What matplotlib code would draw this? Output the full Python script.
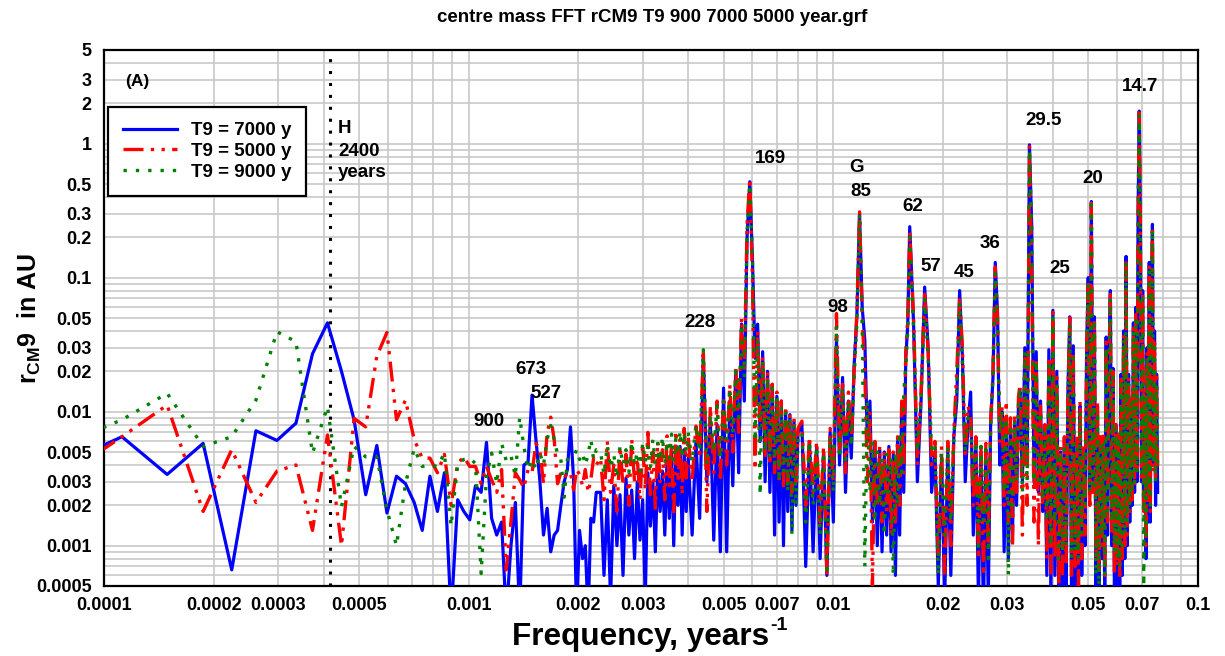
import matplotlib
matplotlib.use("Agg")
import matplotlib.pyplot as plt

plt.rcParams['font.family'] = ['Liberation Sans', 'DejaVu Sans']
plt.rcParams['font.weight'] = 'bold'
plt.rcParams['mathtext.fontset'] = 'custom'
plt.rcParams['mathtext.rm'] = 'Liberation Sans:bold'
plt.rcParams['mathtext.it'] = 'Liberation Sans:bold'
plt.rcParams['mathtext.bf'] = 'Liberation Sans:bold'

# --- low frequency FFT bins (k = 2..60), years^-1
freq_bins = [
    0.0000746, 0.000112, 0.000149, 0.000187, 0.000224, 0.000261, 0.000298, 0.000336, 0.000373, 0.000410,
    0.000448, 0.000485, 0.000522, 0.000560, 0.000597, 0.000634, 0.000671, 0.000709, 0.000746, 0.000783,
    0.000821, 0.000858, 0.000895, 0.000933, 0.000970, 0.001007, 0.001044, 0.001082, 0.001119, 0.001156,
    0.001194, 0.001231, 0.001268, 0.001306, 0.001343, 0.001380, 0.001417, 0.001455, 0.001492, 0.001529,
    0.001567, 0.001604, 0.001641, 0.001679, 0.001716, 0.001753, 0.001790, 0.001828, 0.001865, 0.001902,
    0.001940, 0.001977, 0.002014, 0.002052, 0.002089, 0.002126, 0.002163, 0.002201, 0.002238,
]
blue_bins = [
    0.0039, 0.0065, 0.0034, 0.0058, 0.00066, 0.0072, 0.0061, 0.0082, 0.027, 0.046,
    0.020, 0.0087, 0.0024, 0.0056, 0.00175, 0.0033, 0.0029, 0.0021, 0.0013, 0.0033,
    0.0018, 0.0035, 0.0003, 0.0022, 0.0018, 0.00156, 0.0028, 0.0025, 0.0059, 0.0016,
    0.0012, 0.0015, 0.0003, 0.0010, 0.0021, 0.0003, 0.0040, 0.0042, 0.0133, 0.0062,
    0.0031, 0.0012, 0.0019, 0.0009, 0.0012, 0.0013, 0.0020, 0.0030, 0.0037, 0.0077,
    0.0031, 0.0003, 0.0013, 0.0008, 0.0010, 0.0003, 0.0016, 0.0015, 0.0025,
]
red_bins = [
    0.0031, 0.0065, 0.0112, 0.0018, 0.0052, 0.0021, 0.0036, 0.0040, 0.0013, 0.0067,
    0.0010, 0.0089, 0.0077, 0.026, 0.039, 0.0087, 0.0122, 0.0062, 0.0045, 0.0045,
    0.0035, 0.0048, 0.0020, 0.0041, 0.0046, 0.0039, 0.0039, 0.0029, 0.0039, 0.0031,
    0.0025, 0.0037, 0.00066, 0.0015, 0.0035, 0.0031, 0.0027, 0.0037, 0.0035, 0.0058,
    0.0052, 0.0029, 0.0069, 0.0091, 0.0062, 0.0029, 0.0035, 0.0032, 0.0035, 0.0035,
    0.0026, 0.0037, 0.0034, 0.0028, 0.0037, 0.0025, 0.0031, 0.0045, 0.0040,
]
green_bins = [
    0.0055, 0.0087, 0.0137, 0.0055, 0.0065, 0.0122, 0.0395, 0.0333, 0.0049, 0.0109,
    0.00195, 0.0055, 0.0046, 0.0046, 0.00185, 0.0010, 0.0029, 0.0053, 0.0039, 0.0040,
    0.0039, 0.0049, 0.0014, 0.0041, 0.0044, 0.0045, 0.0041, 0.00062, 0.0033, 0.0049,
    0.0029, 0.0058, 0.0043, 0.0047, 0.0033, 0.0091, 0.0055, 0.0037, 0.0044, 0.0037,
    0.0049, 0.0040, 0.0062, 0.0079, 0.0062, 0.0048, 0.0044, 0.0023, 0.0044, 0.0045,
    0.0046, 0.0052, 0.0044, 0.0049, 0.0040, 0.0048, 0.0062, 0.0044, 0.0052,
]

# --- dense part of the spectrum (sampled), years^-1
freq_band = [
    # 0.0023 - 0.00395
    0.00230, 0.00235, 0.00240, 0.00245, 0.00250, 0.00255, 0.00260, 0.00265, 0.00270, 0.00275,
    0.00280, 0.00285, 0.00290, 0.00295, 0.00300, 0.00305, 0.00310, 0.00315, 0.00320, 0.00325,
    0.00330, 0.00335, 0.00340, 0.00345, 0.00350, 0.00355, 0.00360, 0.00365, 0.00370, 0.00375,
    0.00380, 0.00385, 0.00390, 0.00395,
    # 0.004 - 0.008
    0.0040, 0.0041, 0.0042, 0.0043, 0.0044, 0.0045, 0.0046, 0.0047, 0.0048, 0.0049,
    0.0050, 0.0051, 0.0052, 0.0053, 0.0054, 0.0055, 0.0056, 0.0057, 0.0058, 0.0059,
    0.0060, 0.0061, 0.0062, 0.0063, 0.0064, 0.0065, 0.0066, 0.0067, 0.0068, 0.0069,
    0.0070, 0.0071, 0.0072, 0.0073, 0.0074, 0.0075, 0.0076, 0.0077, 0.0078, 0.0079,
    0.0080,
    # 0.0082 - 0.016
    0.0082, 0.0084, 0.0086, 0.0088, 0.0090, 0.0092, 0.0094, 0.0096, 0.0098, 0.0100,
    0.0102, 0.0104, 0.0106, 0.0108, 0.0110, 0.0112, 0.0114, 0.0116, 0.0118, 0.0120,
    0.0122, 0.0124, 0.0126, 0.0128, 0.0130, 0.0132, 0.0134, 0.0136, 0.0138, 0.0140,
    0.0142, 0.0144, 0.0146, 0.0148, 0.0150, 0.0152, 0.0154, 0.0156, 0.0158, 0.0160,
    # 0.0162 - 0.0322
    0.0162, 0.0166, 0.0170, 0.0174, 0.0178, 0.0182, 0.0186, 0.0190, 0.0194, 0.0198,
    0.0202, 0.0206, 0.0210, 0.0214, 0.0218, 0.0222, 0.0226, 0.0230, 0.0234, 0.0238,
    0.0242, 0.0246, 0.0250, 0.0254, 0.0258, 0.0262, 0.0266, 0.0270, 0.0274, 0.0278,
    0.0282, 0.0286, 0.0290, 0.0294, 0.0298, 0.0302, 0.0306, 0.0310, 0.0314, 0.0318,
    0.0322,
    # 0.0325 - 0.0775
    0.0325, 0.0330, 0.0335, 0.0340, 0.0345, 0.0350, 0.0355, 0.0360, 0.0365, 0.0370,
    0.0375, 0.0380, 0.0385, 0.0390, 0.0395, 0.0400, 0.0405, 0.0410, 0.0415, 0.0420,
    0.0425, 0.0430, 0.0435, 0.0440, 0.0445, 0.0450, 0.0455, 0.0460, 0.0465, 0.0470,
    0.0475, 0.0480, 0.0485, 0.0490, 0.0495, 0.0500, 0.0505, 0.0510, 0.0515, 0.0520,
    0.0525, 0.0530, 0.0535, 0.0540, 0.0545, 0.0550, 0.0555, 0.0560, 0.0565, 0.0570,
    0.0575, 0.0580, 0.0585, 0.0590, 0.0595, 0.0600, 0.0605, 0.0610, 0.0615, 0.0620,
    0.0625, 0.0630, 0.0635, 0.0640, 0.0645, 0.0650, 0.0655, 0.0660, 0.0665, 0.0670,
    0.0675, 0.0680, 0.0685, 0.0690, 0.0695, 0.0700, 0.0705, 0.0710, 0.0715, 0.0720,
    0.0725, 0.0730, 0.0735, 0.0740, 0.0745, 0.0750, 0.0755, 0.0760, 0.0765, 0.0770,
    0.0775,
]
blue_band = [
    0.0025, 0.0006, 0.0022, 0.0004, 0.0028, 0.0010, 0.0024, 0.0006, 0.0032, 0.0012,
    0.0026, 0.0008, 0.0030, 0.0011, 0.0022, 0.0004, 0.0035, 0.0014, 0.0030, 0.0009,
    0.0040, 0.0018, 0.0036, 0.0012, 0.0045, 0.0016, 0.0050, 0.0010, 0.0048, 0.0020,
    0.0055, 0.0012, 0.0052, 0.0018,
    0.0045, 0.0012, 0.0060, 0.0016, 0.026, 0.0030, 0.0085, 0.0011, 0.0080, 0.0009,
    0.015, 0.0009, 0.012, 0.0028, 0.020, 0.0035, 0.045, 0.012, 0.20, 0.52,
    0.14, 0.025, 0.045, 0.0060, 0.028, 0.0030, 0.020, 0.0025, 0.016, 0.0012,
    0.013, 0.0015, 0.012, 0.0010, 0.010, 0.0018, 0.0095, 0.0013, 0.0085, 0.0020,
    0.0070,
    0.0080, 0.0007, 0.0060, 0.0009, 0.0055, 0.0008, 0.0050, 0.0006, 0.0070, 0.0015,
    0.035, 0.0040, 0.018, 0.0025, 0.012, 0.0045, 0.022, 0.050, 0.30, 0.060,
    0.034, 0.0060, 0.012, 0.0015, 0.0058, 0.0010, 0.0052, 0.0009, 0.0050, 0.0012,
    0.0055, 0.0009, 0.0048, 0.0006, 0.0060, 0.0012, 0.011, 0.0025, 0.025, 0.045,
    0.24, 0.045, 0.0030, 0.012, 0.085, 0.030, 0.0025, 0.0050, 0.0005, 0.0045,
    0.0004, 0.0050, 0.0006, 0.0065, 0.012, 0.080, 0.025, 0.0030, 0.0080, 0.014,
    0.0012, 0.0060, 0.0004, 0.0050, 0.0003, 0.0052, 0.0004, 0.0080, 0.018, 0.13,
    0.055, 0.0040, 0.010, 0.0009, 0.0090, 0.0008, 0.0075, 0.0012, 0.0085, 0.0020,
    0.012,
    0.014, 0.0030, 0.030, 0.0040, 0.98, 0.24, 0.0030, 0.028, 0.0025, 0.012,
    0.0018, 0.0074, 0.0006, 0.029, 0.0004, 0.057, 0.0006, 0.020, 0.0004, 0.0050,
    0.0004, 0.0060, 0.0005, 0.015, 0.051, 0.0004, 0.031, 0.0005, 0.0060, 0.0004,
    0.011, 0.0006, 0.0050, 0.0010, 0.030, 0.10, 0.0025, 0.37, 0.0030, 0.051,
    0.0005, 0.011, 0.0004, 0.0060, 0.0008, 0.0062, 0.0004, 0.036, 0.0012, 0.025,
    0.080, 0.0010, 0.021, 0.0004, 0.0080, 0.0004, 0.0065, 0.0004, 0.019, 0.0006,
    0.040, 0.0008, 0.144, 0.0010, 0.019, 0.0015, 0.012, 0.0020, 0.046, 0.0025,
    0.060, 0.0030, 0.30, 1.75, 0.25, 0.0030, 0.080, 0.0020, 0.014, 0.0008,
    0.030, 0.0015, 0.13, 0.0015, 0.050, 0.25, 0.0040, 0.040, 0.0020, 0.019,
    0.0025,
]
red_band = [
    0.0045, 0.0022, 0.0060, 0.0025, 0.0040, 0.0018, 0.0055, 0.0028, 0.0048, 0.0020,
    0.0062, 0.0030, 0.0045, 0.0022, 0.0058, 0.0026, 0.0070, 0.0024, 0.0050, 0.0019,
    0.0060, 0.0030, 0.0052, 0.0022, 0.0066, 0.0028, 0.0058, 0.0017, 0.0072, 0.0030,
    0.0062, 0.0024, 0.0075, 0.0032,
    0.0065, 0.0030, 0.0078, 0.0045, 0.029, 0.0018, 0.0110, 0.0035, 0.012, 0.0030,
    0.013, 0.0040, 0.016, 0.0050, 0.022, 0.0070, 0.050, 0.020, 0.25, 0.55,
    0.10, 0.0037, 0.040, 0.0080, 0.026, 0.0045, 0.020, 0.0040, 0.016, 0.0035,
    0.014, 0.0030, 0.012, 0.0028, 0.011, 0.0030, 0.0095, 0.0025, 0.0090, 0.0030,
    0.0075,
    0.0085, 0.0020, 0.0065, 0.0025, 0.0060, 0.0015, 0.0055, 0.0006, 0.0075, 0.0030,
    0.054, 0.0050, 0.016, 0.0035, 0.014, 0.0060, 0.020, 0.055, 0.31, 0.050,
    0.020, 0.0030, 0.010, 0.0005, 0.0060, 0.0020, 0.0055, 0.0015, 0.0050, 0.0018,
    0.0052, 0.0012, 0.0050, 0.0015, 0.0065, 0.0020, 0.012, 0.0035, 0.028, 0.050,
    0.22, 0.050, 0.0040, 0.014, 0.075, 0.028, 0.0040, 0.0060, 0.0008, 0.0055,
    0.0006, 0.0060, 0.0010, 0.0070, 0.020, 0.070, 0.030, 0.0045, 0.011, 0.0090,
    0.0020, 0.0065, 0.0008, 0.0055, 0.0006, 0.0058, 0.0010, 0.0085, 0.020, 0.12,
    0.050, 0.0060, 0.011, 0.0020, 0.012, 0.0015, 0.0090, 0.0010, 0.0095, 0.0025,
    0.013,
    0.016, 0.0012, 0.025, 0.0020, 0.95, 0.10, 0.0015, 0.025, 0.0010, 0.011,
    0.0020, 0.0080, 0.0008, 0.025, 0.0006, 0.055, 0.0008, 0.018, 0.0005, 0.0055,
    0.0006, 0.0065, 0.0007, 0.014, 0.050, 0.0006, 0.028, 0.0007, 0.0065, 0.0005,
    0.012, 0.0008, 0.0055, 0.0012, 0.028, 0.095, 0.0020, 0.36, 0.0025, 0.048,
    0.0008, 0.012, 0.0006, 0.0065, 0.0010, 0.0070, 0.0006, 0.033, 0.0015, 0.022,
    0.075, 0.0012, 0.020, 0.0006, 0.0085, 0.0007, 0.0070, 0.0006, 0.018, 0.0008,
    0.038, 0.0010, 0.135, 0.0012, 0.018, 0.0018, 0.013, 0.0022, 0.042, 0.0028,
    0.055, 0.0035, 0.28, 1.70, 0.22, 0.0030, 0.075, 0.0018, 0.015, 0.0010,
    0.028, 0.0020, 0.12, 0.0018, 0.048, 0.24, 0.0035, 0.035, 0.0030, 0.018,
    0.0035,
]
green_band = [
    0.0050, 0.0034, 0.0056, 0.0038, 0.0048, 0.0032, 0.0055, 0.0040, 0.0052, 0.0035,
    0.0060, 0.0040, 0.0050, 0.0036, 0.0058, 0.0042, 0.0055, 0.0038, 0.0062, 0.0040,
    0.0058, 0.0043, 0.0065, 0.0040, 0.0060, 0.0045, 0.0068, 0.0042, 0.0063, 0.0048,
    0.0072, 0.0045, 0.0070, 0.0050,
    0.0070, 0.0042, 0.0080, 0.0050, 0.029, 0.0040, 0.0095, 0.0050, 0.011, 0.0045,
    0.012, 0.0060, 0.015, 0.0070, 0.020, 0.0090, 0.045, 0.018, 0.22, 0.50,
    0.15, 0.0060, 0.035, 0.0024, 0.024, 0.0050, 0.018, 0.0045, 0.015, 0.0040,
    0.013, 0.0030, 0.011, 0.0035, 0.010, 0.0025, 0.0090, 0.0012, 0.0080, 0.0020,
    0.0065,
    0.0070, 0.0015, 0.0060, 0.0020, 0.0055, 0.0012, 0.0050, 0.0006, 0.0065, 0.0025,
    0.044, 0.0045, 0.015, 0.0040, 0.012, 0.0055, 0.018, 0.045, 0.30, 0.045,
    0.0007, 0.012, 0.0025, 0.0060, 0.0015, 0.0050, 0.0020, 0.0045, 0.0012, 0.0048,
    0.0025, 0.0045, 0.0006, 0.0050, 0.0020, 0.0070, 0.0035, 0.014, 0.022, 0.040,
    0.20, 0.040, 0.0050, 0.012, 0.070, 0.025, 0.0050, 0.0055, 0.0006, 0.0050,
    0.0012, 0.0055, 0.0015, 0.0065, 0.015, 0.065, 0.022, 0.0050, 0.0090, 0.0080,
    0.0030, 0.0060, 0.0009, 0.0055, 0.0015, 0.0052, 0.0008, 0.0075, 0.018, 0.11,
    0.045, 0.0070, 0.010, 0.0025, 0.0090, 0.0006, 0.0080, 0.0020, 0.0085, 0.0030,
    0.011,
    0.015, 0.0025, 0.028, 0.0030, 0.90, 0.24, 0.0030, 0.024, 0.0028, 0.010,
    0.0022, 0.0070, 0.0015, 0.022, 0.0010, 0.050, 0.0015, 0.016, 0.0008, 0.0050,
    0.0009, 0.0058, 0.0010, 0.013, 0.045, 0.0008, 0.025, 0.0009, 0.0058, 0.0008,
    0.010, 0.0012, 0.0050, 0.0020, 0.025, 0.090, 0.0025, 0.35, 0.0028, 0.045,
    0.0006, 0.010, 0.0005, 0.0058, 0.0012, 0.0060, 0.0006, 0.030, 0.0018, 0.020,
    0.070, 0.0015, 0.018, 0.0009, 0.0075, 0.0008, 0.0065, 0.0007, 0.016, 0.0010,
    0.035, 0.0012, 0.13, 0.0015, 0.016, 0.0020, 0.012, 0.0025, 0.040, 0.0030,
    0.050, 0.0035, 0.26, 1.65, 0.20, 0.0035, 0.070, 0.0005, 0.013, 0.0012,
    0.025, 0.0025, 0.11, 0.0020, 0.045, 0.23, 0.0040, 0.030, 0.0030, 0.016,
    0.0040,
]

series_labels = ["T9 = 7000 y", "T9 = 5000 y", "T9 = 9000 y"]

x_ticks = [0.0001, 0.0002, 0.0003, 0.0005, 0.001, 0.002, 0.003, 0.005, 0.007,
           0.01, 0.02, 0.03, 0.05, 0.07, 0.1]
x_tick_labels = ["0.0001", "0.0002", "0.0003", "0.0005", "0.001", "0.002", "0.003",
                 "0.005", "0.007", "0.01", "0.02", "0.03", "0.05", "0.07", "0.1"]
y_ticks = [0.0005, 0.001, 0.002, 0.003, 0.005, 0.01, 0.02, 0.03, 0.05,
           0.1, 0.2, 0.3, 0.5, 1, 2, 3, 5]
y_tick_labels = ["0.0005", "0.001", "0.002", "0.003", "0.005", "0.01", "0.02", "0.03",
                 "0.05", "0.1", "0.2", "0.3", "0.5", "1", "2", "3", "5"]

# period labels: (text, freq, amplitude) where the text sits
peak_labels = [
    ("900", 0.001136, 0.0084), ("673", 0.001482, 0.0208), ("527", 0.001629, 0.0136),
    ("228", 0.00431, 0.046), ("169", 0.00674, 0.78), ("98", 0.01029, 0.060),
    ("G", 0.0116, 0.66), ("85", 0.0119, 0.436), ("62", 0.01653, 0.337),
    ("57", 0.01852, 0.122), ("45", 0.0228, 0.110), ("36", 0.0269, 0.181),
    ("29.5", 0.0378, 1.48), ("25", 0.0418, 0.118), ("20", 0.0515, 0.545),
    ("14.7", 0.0693, 2.69),
]
h_period = 2400

fig = plt.figure(figsize=(12.25, 6.56), dpi=100)
ax = fig.add_axes([104 / 1225, 1 - 586 / 656, 1094 / 1225, 536 / 656])

ax.plot(freq_bins + freq_band, blue_bins + blue_band, color="#0000ff", lw=2.3,
        label=series_labels[0], zorder=3)
ax.plot(freq_bins + freq_band, red_bins + red_band, color="#ff0000", lw=2.4,
        dashes=(6, 2.2, 1, 2.2, 1, 2.2), label=series_labels[1], zorder=4)
ax.plot(freq_bins + freq_band, green_bins + green_band, color="#008000", lw=2.4,
        dashes=(1, 2.7), label=series_labels[2], zorder=5)

ax.axvline(1 / h_period, color="black", lw=2.2, dashes=(1, 2.9), zorder=2)

ax.set_xscale("log")
ax.set_yscale("log")
ax.set_xlim(0.0001, 0.1)
ax.set_ylim(0.0005, 5)

ax.set_xticks(x_ticks)
ax.set_xticklabels(x_tick_labels)
ax.set_yticks(y_ticks)
ax.set_yticklabels(y_tick_labels)
ax.set_xticks([m * 10.0 ** e for e in (-4, -3, -2) for m in range(1, 10)], minor=True)
ax.set_yticks([v for v in (m * 10.0 ** e for e in (-4, -3, -2, -1, 0) for m in range(1, 10))
               if 0.0005 <= v <= 5], minor=True)
ax.set_xticklabels([], minor=True)
ax.set_yticklabels([], minor=True)
ax.tick_params(which="both", length=0)
ax.tick_params(axis="x", pad=8, labelsize=13)
ax.tick_params(axis="y", pad=9, labelsize=13)
ax.grid(which="both", color="#c8c8c8", lw=1.2)
ax.set_axisbelow(True)
for sp in ax.spines.values():
    sp.set_linewidth(1.6)
    sp.set_color("black")

for txt, fx, fy in peak_labels:
    ax.text(fx, fy, txt, ha="center", va="center", fontsize=13.5, fontweight="bold", zorder=6)
ax.text(0.000123, 2.93, "(A)", ha="center", va="center", fontsize=12.5, fontweight="bold")
ax.text(0.000438, 1.29, "H", ha="left", va="center", fontsize=13.5, fontweight="bold")
ax.text(0.000438, 0.88, "2400", ha="left", va="center", fontsize=13.5, fontweight="bold")
ax.text(0.000438, 0.61, "years", ha="left", va="center", fontsize=13.5, fontweight="bold")

leg = ax.legend(loc="upper left", bbox_to_anchor=(0.0037, 0.8937), borderaxespad=0,
                fancybox=False, framealpha=1, edgecolor="black", fontsize=13.5,
                handlelength=2.9, handletextpad=0.7, labelspacing=0.2, borderpad=0.8)
leg.get_frame().set_linewidth(1.6)

fig.text(652 / 1225, 1 - 18 / 656, "centre mass FFT rCM9 T9 900 7000 5000 year.grf",
         ha="center", va="center", fontsize=13.5, fontweight="bold")
fig.text(512 / 1225, 1 - 645 / 656, "Frequency, years",
         ha="left", va="baseline", fontsize=22.7, fontweight="bold")
fig.text(770 / 1225, 1 - 630 / 656, "-1",
         ha="left", va="baseline", fontsize=14, fontweight="bold")
fig.text(29 / 1225, 1 - 318 / 656, r"r$_{\mathrm{CM}}$9  in AU", rotation=90,
         ha="center", va="center", fontsize=18, fontweight="bold")

fig.savefig("out.png", dpi=100)
